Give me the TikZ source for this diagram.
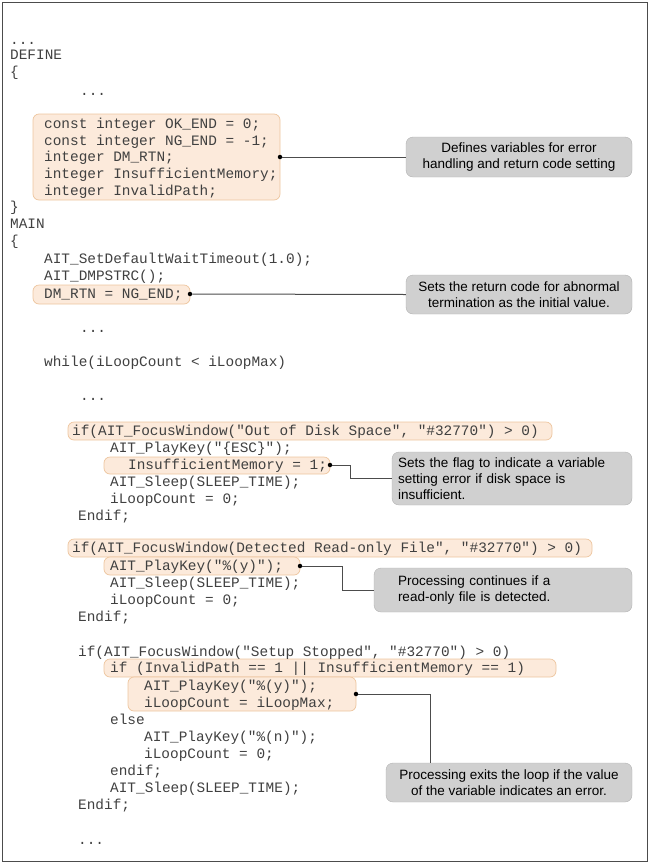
\documentclass[tikz,border=0pt]{standalone}
\usepackage{fontspec}
\setmainfont{Liberation Sans}
\newfontfamily\codefont{Liberation Mono}
\definecolor{hlfill}{HTML}{FCEADB}
\definecolor{hldraw}{HTML}{EDC59E}
\definecolor{cofill}{HTML}{D0D0D0}
\definecolor{codecol}{HTML}{404040}
\begin{document}
\begin{tikzpicture}[x=1pt,y=-1pt,
  code/.style={anchor=base west,inner sep=0,font=\codefont\fontsize{14.4}{16}\selectfont,text=codecol},
  hl/.style={fill=hlfill,draw=hldraw,rounded corners=6pt,line width=0.7pt},
  callout/.style={fill=cofill,draw=cofill!85!black,rounded corners=7pt,align=center,font=\fontsize{13.5}{16}\selectfont,inner sep=0},
  lead/.style={draw=black!70,line width=1pt},
  dot/.style={circle,fill=black,inner sep=0,minimum size=4.5pt}]
\useasboundingbox (0,0) rectangle (649,863);
\draw[black!70,line width=0.8pt] (2,2) rectangle (647,861);
% highlight boxes
\draw[hl] (33,114) rectangle (280,200);
\draw[hl] (33,285) rectangle (190,304);
\draw[hl] (68,422) rectangle (552,440);
\draw[hl] (104,457) rectangle (330,474);
\draw[hl] (68,539) rectangle (592,557);
\draw[hl] (104,557) rectangle (300,575);
\draw[hl] (104,659) rectangle (556,677);
\draw[hl] (128,677) rectangle (356,711);
% code
\foreach \x/\y/\t [count=\i] in {
 10/44/{...}, 10/59/DEFINE, 10/76/\{, 80/95/{...},
 44/128/{const integer OK\_END = 0;}, 44/145/{const integer NG\_END = -1;},
 44/161/{integer DM\_RTN;}, 44/178/{integer InsufficientMemory;}, 44/195/{integer InvalidPath;},
 10/211/\}, 10/228/MAIN, 10/245/\{,
 44/263/{AIT\_SetDefaultWaitTimeout(1.0);}, 44/280/{AIT\_DMPSTRC();}, 44/298/{DM\_RTN = NG\_END;},
 80/332/{...}, 44/366/{while(iLoopCount < iLoopMax)}, 80/400/{...},
 72/435/{if(AIT\_FocusWindow("Out of Disk Space", "\#32770") > 0)},
 110/452/{AIT\_PlayKey("\{ESC\}");}, 128/469/{InsufficientMemory = 1;},
 110/486/{AIT\_Sleep(SLEEP\_TIME);}, 110/503/{iLoopCount = 0;}, 78/520/{Endif;},
 72/552/{if(AIT\_FocusWindow(Detected Read-only File", "\#32770") > 0)},
 110/570/{AIT\_PlayKey("\%(y)");}, 110/587/{AIT\_Sleep(SLEEP\_TIME);}, 110/604/{iLoopCount = 0;}, 78/621/{Endif;},
 78/656/{if(AIT\_FocusWindow("Setup Stopped", "\#32770") > 0)},
 110/672/{if (InvalidPath == 1 || InsufficientMemory == 1)},
 144/690/{AIT\_PlayKey("\%(y)");}, 144/707/{iLoopCount = iLoopMax;},
 110/724/{else}, 144/741/{AIT\_PlayKey("\%(n)");}, 144/758/{iLoopCount = 0;},
 110/775/{endif;}, 110/792/{AIT\_Sleep(SLEEP\_TIME);}, 78/809/{Endif;}, 78/844/{...}}
 \node[code] (c\i) at (\x,\y) {\t};
% callouts
\node[callout,minimum width=226pt,minimum height=40pt] (A) at (519,157) {Defines variables for error\\handling and return code setting};
\node[callout,minimum width=226pt,minimum height=39pt] (B) at (519,294.5) {Sets the return code for abnormal\\termination as the initial value.};
\node[callout,minimum width=240pt,minimum height=53pt,align=left,text width=228pt] (C) at (512,478.5) {Sets the flag to indicate a variable\\setting error if disk space is\\insufficient.};
\node[callout,minimum width=258pt,minimum height=44pt,align=left,text width=210pt] (D) at (503,590) {Processing continues if a\\read-only file is detected.};
\node[callout,minimum width=246pt,minimum height=39pt] (E) at (509,782.5) {Processing exits the loop if the value\\of the variable indicates an error.};
% leaders
\node[dot] (dA) at (280,157) {};
\node[dot] (dB) at (190,294) {};
\node[dot] (dC) at (330,465) {};
\node[dot] (dD) at (300,566) {};
\node[dot] (dE) at (356,694) {};
\draw[lead] (dA) -- (A.west);
\draw[lead] (dB) -- (B.west);
\draw[lead] (dC) -- (350,465) |- (C.west);
\draw[lead] (dD) -- (342,566) |- (D.west);
\draw[lead] (dE) -- (430,694) -- (430,763);
\end{tikzpicture}
\end{document}
